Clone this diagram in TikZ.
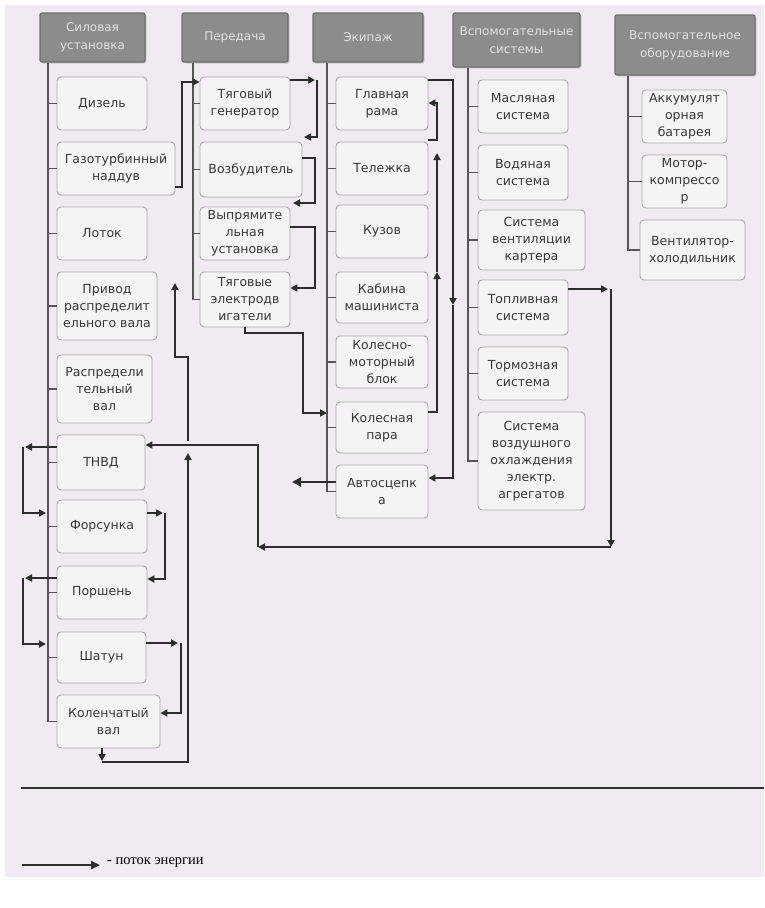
\documentclass[tikz,border=0pt]{standalone}
\usepackage{fontspec}
\setmainfont{DejaVu Sans}
\newfontfamily\legendfont{Liberation Serif}
\usetikzlibrary{arrows.meta,shadows}
\definecolor{bgtint}{RGB}{240,234,241}
\definecolor{boxfill}{RGB}{246,243,246}
\definecolor{boxline}{RGB}{170,170,170}
\definecolor{hdrfill}{RGB}{140,140,140}
\definecolor{hdrline}{RGB}{110,110,110}
\definecolor{hdrtext}{RGB}{225,225,225}
\definecolor{txt}{RGB}{55,55,55}
\definecolor{flowc}{RGB}{45,45,45}
\definecolor{spinec}{RGB}{85,85,85}
\begin{document}
\begin{tikzpicture}[x=1pt,y=-1pt,
  hdr/.style={draw=hdrline, line width=1.2pt, fill=hdrfill, rounded corners=2pt, text=hdrtext,
    font=\fontsize{12}{18}\selectfont, align=center, inner sep=0pt,
    drop shadow={shadow xshift=1.5pt, shadow yshift=-1.5pt, fill=black!35}},
  item/.style={draw=boxline, line width=0.9pt, fill=boxfill, rounded corners=4pt, text=txt,
    font=\fontsize{12.5}{17}\selectfont, align=center, inner sep=0pt},
  spine/.style={draw=spinec, line width=1.3pt},
  flow/.style={draw=flowc, line width=1.7pt, -{Triangle[length=7pt,width=7pt]}},
]
\useasboundingbox (0,0) rectangle (764,908);
\fill[bgtint] (5,5) rectangle (764,877);

% headers
\node[hdr, minimum width=105, minimum height=49] (h1) at (92.5,37.5) {Силовая\\установка};
\node[hdr, minimum width=106, minimum height=49] (h2) at (235,37.5) {Передача};
\node[hdr, minimum width=110, minimum height=49] (h3) at (368,37.5) {Экипаж};
\node[hdr, minimum width=127, minimum height=54] (h4) at (516.5,40) {Вспомогательные\\системы};
\node[hdr, minimum width=140, minimum height=60] (h5) at (685,45) {Вспомогательное\\оборудование};

\coordinate (s1) at (48,0);
\coordinate (s2) at (193,0);
\coordinate (s3) at (327,0);
\coordinate (s4) at (468,0);
\coordinate (s5) at (628,0);

% column 1
\node[item, minimum width=90, minimum height=53] (diesel) at (102,103.5) {Дизель};
\node[item, minimum width=118, minimum height=53] (gtn) at (116,168.5) {Газотурбинный\\наддув};
\node[item, minimum width=90, minimum height=53] (lotok) at (102,233.5) {Лоток};
\node[item, minimum width=100, minimum height=68] (privod) at (107,306) {Привод\\распределит\\ельного вала};
\node[item, minimum width=95, minimum height=68] (raspr) at (104.5,389) {Распредели\\тельный\\вал};
\node[item, minimum width=88, minimum height=55] (tnvd) at (101,462.5) {ТНВД};
\node[item, minimum width=90, minimum height=53] (fors) at (102,526.5) {Форсунка};
\node[item, minimum width=90, minimum height=53] (porsh) at (102,592.5) {Поршень};
\node[item, minimum width=89, minimum height=51] (shatun) at (101.5,657.5) {Шатун};
\node[item, minimum width=103, minimum height=53] (kolval) at (108.5,721.5) {Коленчатый\\вал};

% column 2
\node[item, minimum width=90, minimum height=53] (tg) at (245,103.5) {Тяговый\\генератор};
\node[item, minimum width=102, minimum height=55] (vozb) at (251,169.5) {Возбудитель};
\node[item, minimum width=90, minimum height=53] (vypr) at (245,233.5) {Выпрямите\\льная\\установка};
\node[item, minimum width=90, minimum height=55] (ted) at (245,299.5) {Тяговые\\электродв\\игатели};

% column 3
\node[item, minimum width=92, minimum height=53] (rama) at (382,103.5) {Главная\\рама};
\node[item, minimum width=92, minimum height=53] (tel) at (382,168.5) {Тележка};
\node[item, minimum width=92, minimum height=53] (kuzov) at (382,231.5) {Кузов};
\node[item, minimum width=92, minimum height=51] (kabina) at (382,297.5) {Кабина\\машиниста};
\node[item, minimum width=92, minimum height=52] (kmb) at (382,362) {Колесно-\\моторный\\блок};
\node[item, minimum width=92, minimum height=51] (kp) at (382,427.5) {Колесная\\пара};
\node[item, minimum width=92, minimum height=53] (avto) at (382,491.5) {Автосцепк\\а};

% column 4
\node[item, minimum width=90, minimum height=53] (masl) at (523,106.5) {Масляная\\система};
\node[item, minimum width=90, minimum height=55] (vodn) at (523,172.5) {Водяная\\система};
\node[item, minimum width=107, minimum height=60] (vent) at (531.5,240) {Система\\вентиляции\\картера};
\node[item, minimum width=90, minimum height=55] (topl) at (523,307.5) {Топливная\\система};
\node[item, minimum width=90, minimum height=53] (torm) at (523,373.5) {Тормозная\\система};
\node[item, minimum width=107, minimum height=98] (vozd) at (531.5,461) {Система\\воздушного\\охлаждения\\электр.\\агрегатов};

% column 5
\node[item, minimum width=85, minimum height=53] (akk) at (684.5,116.5) {Аккумулят\\орная\\батарея};
\node[item, minimum width=85, minimum height=53] (motor) at (684.5,181.5) {Мотор-\\компрессо\\р};
\node[item, minimum width=105, minimum height=60] (ventkh) at (692.5,250) {Вентилятор-\\холодильник};

% spines
\draw[spine] (s1 |- h1.south) -- (s1 |- kolval.west) -- (kolval.west);
\foreach \n in {diesel,gtn,lotok,privod,raspr,tnvd,fors,porsh,shatun}
  \draw[spine] (s1 |- \n.west) -- (\n.west);
\draw[spine] (s2 |- h2.south) -- (s2 |- ted.west) -- (ted.west);
\foreach \n in {tg,vozb,vypr}
  \draw[spine] (s2 |- \n.west) -- (\n.west);
\draw[spine] (s3 |- h3.south) -- (s3 |- avto.west) -- (avto.west);
\foreach \n in {rama,tel,kuzov,kabina,kmb,kp}
  \draw[spine] (s3 |- \n.west) -- (\n.west);
\draw[spine] (s4 |- h4.south) -- (s4 |- vozd.west) -- (vozd.west);
\foreach \n in {masl,vodn,vent,topl,torm}
  \draw[spine] (s4 |- \n.west) -- (\n.west);
\draw[spine] (s5 |- h5.south) -- (s5 |- ventkh.west) -- (ventkh.west);
\foreach \n in {akk,motor}
  \draw[spine] (s5 |- \n.west) -- (\n.west);

% energy flows
\draw[flow] (gtn.east |- 0,187) -- (182,187) -- (182,82) -- (tg.west |- 0,82);
\draw[flow] (tg.east |- 0,80) -- (315,80);
\draw[flow] (317,80) -- (317,137) -- (304,137);
\draw[flow] (vozb.east |- 0,158) -- (315,158) -- (315,203) -- (293,203);
\draw[flow] (vypr.east |- 0,227) -- (315,227) -- (315,288) -- (ted.east |- 0,288);
\draw[flow] (ted.south) -- (245,333) -- (303,333) -- (303,413) -- (s3 |- 0,413);

\draw[flow] (rama.east |- 0,80) -- (453,80) -- (453,305);
\draw[flow] (453,305) -- (453,478) -- (avto.east |- 0,478);
\draw[flow] (tel.north east |- 0,140) -- (437,140) -- (437,103) -- (rama.east |- 0,103);
\draw[flow] (kp.east |- 0,412) -- (437,412) -- (437,272);
\draw[flow] (437,272) -- (437,153);
\draw[flow, line width=2.6pt, -{Triangle[length=9pt,width=9pt]}] (avto.west |- 0,482) -- (292,482);

\draw[flow] (topl.east |- 0,289) -- (608,289);
\draw[flow] (611,289) -- (611,547);
\draw[flow] (611,547) -- (258,547);
\draw[flow] (258,547) -- (258,445) -- (tnvd.east |- 0,445);

\draw[flow] (kolval.south -| 102,0) -- (102,761);
\draw[flow] (102,762) -- (188,762) -- (188,453);
\draw[flow] (188,441) -- (188,357) -- (175,357) -- (175,283);

\draw[flow] (tnvd.west |- 0,447) -- (25,447);
\draw[flow] (23,447) -- (23,513) -- (46,513);
\draw[flow] (fors.east |- 0,513) -- (163,513);
\draw[flow] (165,513) -- (165,579) -- (porsh.east |- 0,579);
\draw[flow] (porsh.west |- 0,578) -- (25,578);
\draw[flow] (23,578) -- (23,644) -- (46,644);
\draw[flow] (shatun.east |- 0,643) -- (178,643);
\draw[flow] (181,643) -- (181,713) -- (kolval.east |- 0,713);

% separator and legend
\coordinate (sepL) at (21,788);
\coordinate (sepR) at (764,788);
\draw[flowc, line width=2.4pt] (sepL) -- (sepR);
\node[anchor=west, inner sep=0pt, font=\legendfont\fontsize{14.5}{16}\selectfont, text=black] (legend) at (107,863) {- поток энергии};
\coordinate (legstart) at (22,865);
\draw[flowc, line width=2.4pt, -{Triangle[length=9pt,width=8pt]}] (legstart) -- (100,865);
\end{tikzpicture}
\end{document}
